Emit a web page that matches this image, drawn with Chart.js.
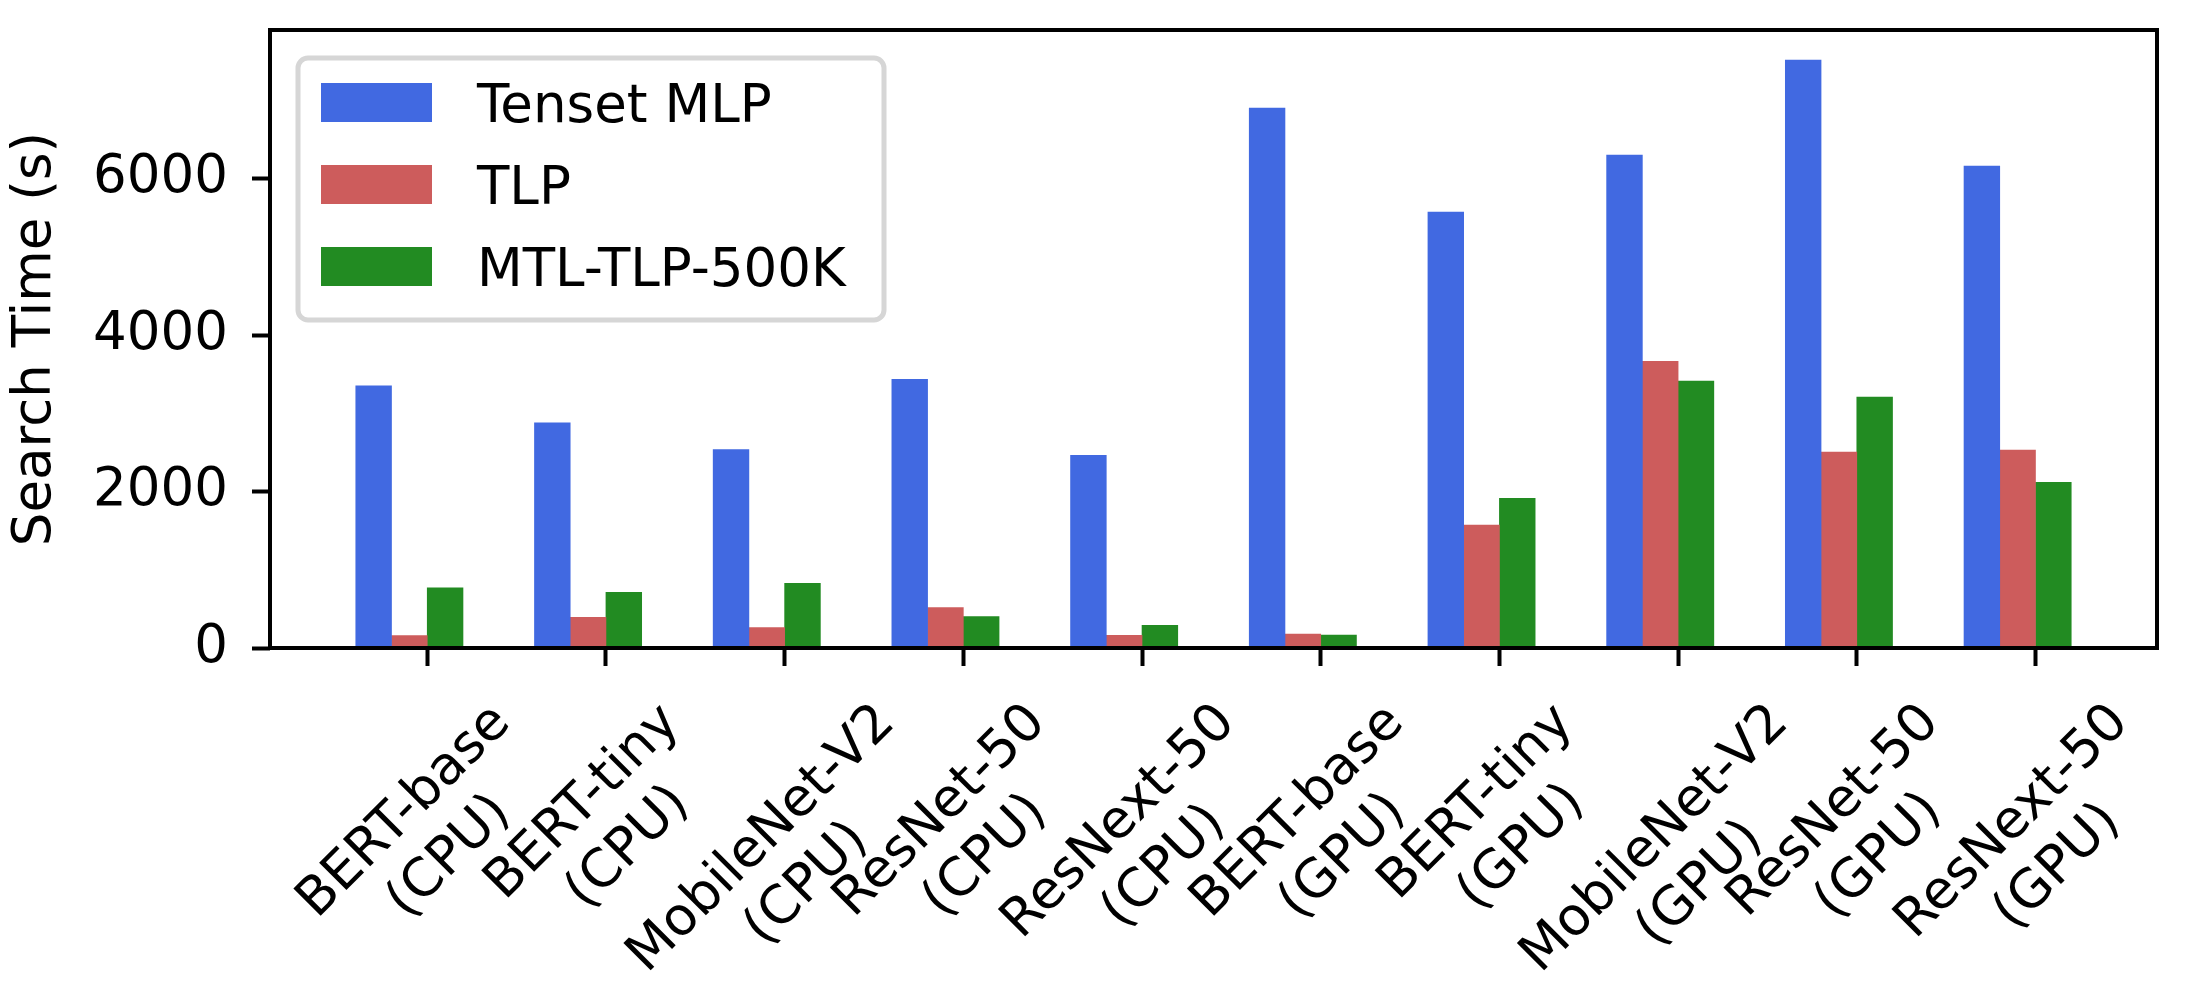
<!DOCTYPE html>
<html>
<head>
<meta charset="utf-8">
<script src="https://cdn.jsdelivr.net/npm/chart.js@4.4.1/dist/chart.umd.min.js"></script>
<style>
  html, body { margin: 0; padding: 0; background: #fff; }
</style>
</head>
<body>
<canvas id="searchChart" width="2200" height="1000"></canvas>
<script>
// values
const categories = [
    'BERT-base\n(CPU)', 'BERT-tiny\n(CPU)', 'MobileNet-V2\n(CPU)', 'ResNet-50\n(CPU)', 'ResNext-50\n(CPU)',
    'BERT-base\n(GPU)', 'BERT-tiny\n(GPU)', 'MobileNet-V2\n(GPU)', 'ResNet-50\n(GPU)', 'ResNext-50\n(GPU)'
];
const tensetMlp = [3352, 2878, 2536, 3433, 2464, 6901, 5571, 6302, 7517, 6159];
const tlp       = [160, 393, 262, 516, 162, 177, 1570, 3665, 2506, 2529];
const mtlTlp    = [770, 712, 826, 403, 290, 166, 1912, 3413, 3208, 2118];
const yTicks = [0, 2000, 4000, 6000];

const seriesNames = ['Tenset MLP', 'TLP', 'MTL-TLP-500K'];
const seriesColors = ['#4169e1', '#cd5c5c', '#228b22'];
const barOffsets = [-0.3, -0.1, 0.1];   // bar centres relative to the tick

const FONT = '"DejaVu Sans", sans-serif';
const FONT_SIZE = 53;

function makeDataset(values, k) {
    return {
        label: seriesNames[k],
        data: values.map((v, i) => ({ x: i + barOffsets[k], y: v })),
        backgroundColor: seriesColors[k],
        borderWidth: 0,
        grouped: false,
        barPercentage: 1,
        categoryPercentage: 1
    };
}

// axes box drawn on top of the bars, like matplotlib spines
const framePlugin = {
    id: 'frame',
    afterDatasetsDraw(chart) {
        const { ctx, chartArea: a } = chart;
        ctx.save();
        ctx.strokeStyle = '#000';
        ctx.lineWidth = 4;
        ctx.strokeRect(a.left, a.top, a.right - a.left, a.bottom - a.top);
        ctx.restore();
    }
};

// two-line rotated labels, lines centred on each other
const xLabelPlugin = {
    id: 'xLabels',
    afterDraw(chart) {
        const { ctx, chartArea } = chart;
        const xScale = chart.scales.x;
        const lineGap = FONT_SIZE * 1.2;
        const blockH = 125;
        const yTop = chartArea.bottom + 45;
        ctx.save();
        ctx.font = FONT_SIZE + 'px ' + FONT;
        ctx.fillStyle = '#000';
        ctx.textAlign = 'center';
        ctx.textBaseline = 'middle';
        categories.forEach((label, i) => {
            const lines = label.split('\n');
            const w = Math.max(...lines.map(l => ctx.measureText(l).width));
            const cx = xScale.getPixelForValue(i);
            const cy = yTop + (w + blockH) * Math.SQRT1_2 / 2;
            ctx.save();
            ctx.translate(cx, cy);
            ctx.rotate(-Math.PI / 4);
            lines.forEach((l, j) => ctx.fillText(l, 0, (j - (lines.length - 1) / 2) * lineGap));
            ctx.restore();
        });
        ctx.restore();
    }
};

// legend box inside the plot, upper left
const legendPlugin = {
    id: 'boxLegend',
    afterDraw(chart) {
        const { ctx, chartArea: a } = chart;
        const x0 = a.left + 28, y0 = a.top + 28;
        const boxW = 586, boxH = 262;
        ctx.save();
        ctx.beginPath();
        ctx.roundRect(x0, y0, boxW, boxH, 10);
        ctx.fillStyle = 'rgba(255,255,255,0.8)';
        ctx.fill();
        ctx.lineWidth = 5;
        ctx.strokeStyle = '#d6d6d6';
        ctx.stroke();
        ctx.font = FONT_SIZE + 'px ' + FONT;
        ctx.textBaseline = 'alphabetic';
        ctx.textAlign = 'left';
        chart.data.datasets.forEach((ds, k) => {
            const cy = y0 + 44.5 + k * 82;
            ctx.fillStyle = ds.backgroundColor;
            ctx.fillRect(x0 + 23, cy - 19.5, 111, 39);
            ctx.fillStyle = '#000';
            ctx.fillText(ds.label, x0 + 179, cy + FONT_SIZE * 0.729 / 2);
        });
        ctx.restore();
    }
};

const tickGrid = {
    offset: false,
    drawOnChartArea: false,
    drawTicks: true,
    tickLength: 18,
    tickWidth: 4,
    tickColor: '#000',
    color: '#000'
};

const chart = new Chart(document.getElementById('searchChart').getContext('2d'), {
    type: 'bar',
    data: {
        datasets: [makeDataset(tensetMlp, 0), makeDataset(tlp, 1), makeDataset(mtlTlp, 2)]
    },
    plugins: [framePlugin, xLabelPlugin, legendPlugin],
    options: {
        responsive: false,
        animation: false,
        devicePixelRatio: 1,
        layout: { padding: { top: 30, right: 43, left: 0, bottom: 0 } },
        plugins: {
            legend: { display: false },
            tooltip: { enabled: false }
        },
        scales: {
            x: {
                type: 'linear',
                offset: false,
                min: -0.88,
                max: 9.68,
                afterBuildTicks: s => { s.ticks = categories.map((c, i) => ({ value: i })); },
                afterFit: s => { s.height = 352; s.paddingLeft = 0; s.paddingRight = 0; },
                ticks: { display: false },
                grid: tickGrid,
                border: { display: false }
            },
            y: {
                min: 0,
                max: 7900,
                afterBuildTicks: s => { s.ticks = yTicks.map(v => ({ value: v })); },
                afterFit: s => { s.width = 270; s.paddingTop = 0; s.paddingBottom = 0; },
                ticks: {
                    color: '#000',
                    padding: 24,
                    font: { family: FONT, size: FONT_SIZE },
                    callback: v => String(v)
                },
                grid: tickGrid,
                border: { display: false },
                title: {
                    display: true,
                    text: 'Search Time (s)',
                    color: '#000',
                    padding: { top: 4, bottom: 0 },
                    font: { family: FONT, size: FONT_SIZE }
                }
            }
        }
    }
});
</script>
</body>
</html>
